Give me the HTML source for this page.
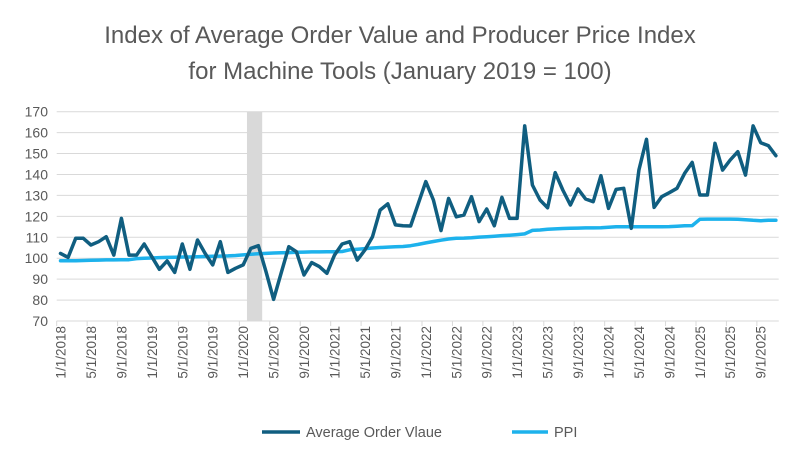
<!DOCTYPE html>
<html><head><meta charset="utf-8"><style>
html,body{margin:0;padding:0;background:#fff;}
svg{display:block;font-family:"Liberation Sans",sans-serif;}
</style></head><body>
<svg id="chart" width="800" height="458" viewBox="0 0 800 458" xmlns="http://www.w3.org/2000/svg">
<text x="400" y="43" text-anchor="middle" font-size="24" fill="#595959">Index of Average Order Value and Producer Price Index</text>
<text x="400" y="79" text-anchor="middle" font-size="24" fill="#595959">for Machine Tools (January 2019 = 100)</text>
<g id="grid"></g>
<g id="band"></g>
<g id="yaxis"></g>
<g id="xaxis"></g>
<g id="series"></g>
<g>
<line x1="262" y1="432" x2="300" y2="432" stroke="#105e80" stroke-width="3.5"/>
<text x="306" y="437" font-size="14.5" fill="#595959">Average Order Vlaue</text>
<line x1="512" y1="432" x2="548" y2="432" stroke="#1db2ec" stroke-width="3.5"/>
<text x="554" y="437" font-size="14.5" fill="#595959">PPI</text>
</g>
</svg>
<script>
const aov = [102.3,100.4,109.5,109.5,106.3,107.9,110.3,101.5,119,101.5,101.5,106.8,100.7,94.7,98.7,93.2,106.8,94.7,108.7,102.3,96.8,107.9,93.2,95.2,96.8,104.7,106,93.6,80.3,93,105.5,103.1,92,97.9,96,92.8,101.5,106.8,107.9,99.1,103.9,110.3,123,126,115.9,115.5,115.4,126,136.6,127.8,113.2,128.6,119.8,120.6,129.4,117.5,123.5,115.5,129.1,119,119,163.2,135,127.8,124.1,140.9,132.6,125.4,133.1,128.3,127,139.4,123.8,132.9,133.4,114.3,142.1,156.8,124.3,129.4,131.3,133.4,140.5,145.8,130.2,130.2,154.9,142.1,146.9,150.9,139.7,163.2,155.2,153.8,149];
const ppi = [98.8,98.8,98.8,98.9,99,99.1,99.2,99.2,99.3,99.3,99.8,100,100.1,100.3,100.4,100.5,100.6,100.6,100.7,100.8,100.9,101,101.1,101.3,101.6,101.9,102.1,102.3,102.5,102.6,102.7,102.8,102.9,103,103,103.1,103.1,103.2,104,104.3,104.6,104.9,105.1,105.3,105.5,105.6,106,106.6,107.3,108,108.6,109.2,109.5,109.6,109.8,110.1,110.3,110.5,110.8,111,111.3,111.6,113.3,113.5,113.8,114,114.2,114.3,114.4,114.5,114.5,114.6,114.8,115,115,115,115,115,115,115,115.1,115.3,115.5,115.6,118.6,118.7,118.7,118.7,118.7,118.6,118.4,118.1,117.9,118.1,118.1];
const yTicks = [70,80,90,100,110,120,130,140,150,160,170];
const bandCats = [25,26];
const startYear = 2018;
const NS='http://www.w3.org/2000/svg';
const X0=56.7, X1=779.7, Y0=321, Y1=111.7, N=aov.length;
const step=(X1-X0)/N;
const xs=i=>X0+(i+0.5)*step;
const ys=v=>Y0-(v-70)/(170-70)*(Y0-Y1);
function mk(tag,parent,attrs){const e=document.createElementNS(NS,tag);for(const k in attrs)e.setAttribute(k,attrs[k]);parent.appendChild(e);return e;}
const grid=document.getElementById('grid'),yax=document.getElementById('yaxis'),xax=document.getElementById('xaxis'),band=document.getElementById('band'),ser=document.getElementById('series');
yTicks.forEach(t=>{
  const l=mk('line',grid,{x1:X0,x2:X1-1,y1:ys(t),y2:ys(t),stroke:'#d9d9d9','stroke-width':1});
  
  
  const tx=mk('text',yax,{x:48,y:ys(t)+5,'text-anchor':'end','font-size':14,fill:'#595959'});
  tx.textContent=t;
  
  
});
const b=mk('rect',band,{x:X0+bandCats[0]*step,y:Y1,width:bandCats.length*step,height:Y0-Y1,fill:'#d9d9d9'});


const ax=mk('line',xax,{x1:X0,x2:X1-1,y1:Y0,y2:Y0,stroke:'#d9d9d9','stroke-width':1});


for(let i=0;i<N;i+=4){
  const tk=mk('line',xax,{x1:X0+i*step,x2:X0+i*step,y1:Y0,y2:Y0+5,stroke:'#d9d9d9'});
  
  
  const m=(i%12)+1, yr=startYear+Math.floor(i/12);
  const x=xs(i)+5;
  const tx=mk('text',xax,{x:x,y:326,'text-anchor':'end','font-size':13.5,fill:'#595959',transform:`rotate(-90 ${x} 326)`});
  tx.textContent=m+'/1/'+yr;
  
  
}
function line(data,color,name){
  const p=mk('polyline',ser,{points:data.map((v,i)=>xs(i).toFixed(1)+','+ys(v).toFixed(1)).join(' '),fill:'none',stroke:color,'stroke-width':3.5,'stroke-linejoin':'round','stroke-linecap':'round'});
  
  
}
line(ppi,'#1db2ec','ppi-line');
line(aov,'#105e80','average-order-value-line');
</script>
</body></html>
